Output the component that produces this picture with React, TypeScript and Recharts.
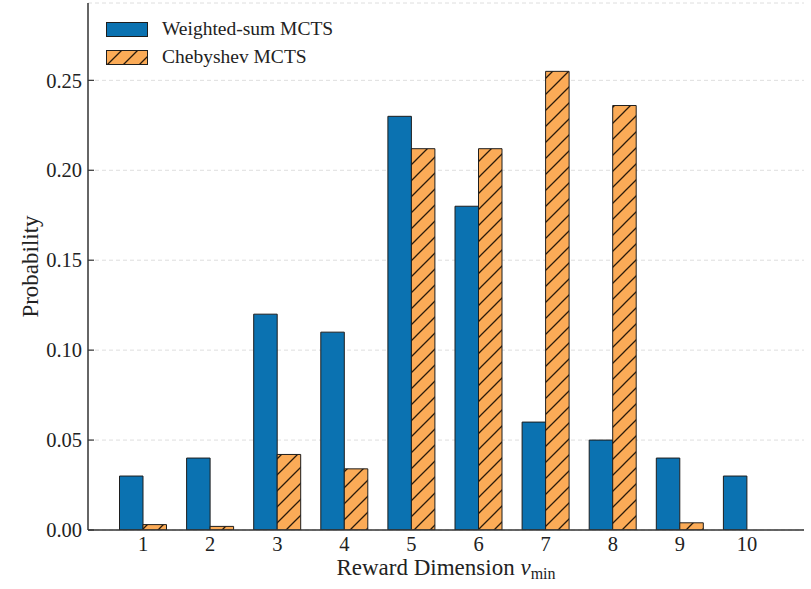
import { BarChart, Bar, XAxis, YAxis, CartesianGrid, Legend } from "recharts";

const dims = ["1", "2", "3", "4", "5", "6", "7", "8", "9", "10"];
const weightedSum = [0.03, 0.04, 0.12, 0.11, 0.23, 0.18, 0.06, 0.05, 0.04, 0.03];
const chebyshev = [0.003, 0.002, 0.042, 0.034, 0.212, 0.212, 0.255, 0.236, 0.004, 0];
const yTicks = [0, 0.05, 0.1, 0.15, 0.2, 0.25];

const data = dims.map((d, i) => ({ dim: d, weighted: weightedSum[i], cheby: chebyshev[i] }));

const FONT = '"Liberation Serif", "DejaVu Serif", serif';
const BLUE = "#0b72b1";
const ORANGE = "#fbab57";
const EDGE = "#1e1e1e";
const INK = "#222";

const HatchDefs = ({ id }: { id: string }) => (
    <defs>
        <pattern id={id} patternUnits="userSpaceOnUse" width={16} height={16}>
            <rect width={16} height={16} fill={ORANGE} />
            <path d="M0,16 L16,0 M-2,2 L2,-2 M14,18 L18,14" stroke="#2a1a0a" strokeWidth={1.3} />
        </pattern>
    </defs>
);

const YTick = (props: any) => {
    const { x, y, payload } = props;
    return (
        <g>
            <line x1={x} y1={y} x2={x + 6} y2={y} stroke="#333" strokeWidth={1.2} />
            <text x={x - 6} y={y} dy="0.35em" textAnchor="end" fontSize={20.5} fill={INK} fontFamily={FONT}>
                {Number(payload.value).toFixed(2)}
            </text>
        </g>
    );
};

const XTick = (props: any) => {
    const { x, y, payload } = props;
    return (
        <text x={x} y={y + 21} textAnchor="middle" fontSize={20.5} fill={INK} fontFamily={FONT}>
            {payload.value}
        </text>
    );
};

const YLabel = (props: any) => {
    const { viewBox } = props;
    const cx = viewBox.x + 30;
    const cy = viewBox.y + viewBox.height / 2;
    return (
        <text x={cx} y={cy} dy="0.35em" textAnchor="middle" transform={`rotate(-90, ${cx}, ${cy})`}
            fontSize={23} fill={INK} fontFamily={FONT}>
            Probability
        </text>
    );
};

const XLabel = (props: any) => {
    const { viewBox } = props;
    return (
        <text x={viewBox.x + viewBox.width / 2} y={viewBox.y + 45} textAnchor="middle" fontSize={23}
            fill={INK} fontFamily={FONT}>
            Reward Dimension <tspan fontStyle="italic">v</tspan>
            <tspan dy={4} fontSize={16}>min</tspan>
        </text>
    );
};

const LegendBox = () => (
    <div style={{ fontFamily: FONT, fontSize: 19.5, color: INK, lineHeight: 1 }}>
        <div style={{ display: "flex", alignItems: "center", height: 28 }}>
            <svg width={42} height={15}>
                <rect x={0.5} y={0.5} width={41} height={14} fill={BLUE} stroke={EDGE} />
            </svg>
            <span style={{ marginLeft: 14 }}>Weighted-sum MCTS</span>
        </div>
        <div style={{ display: "flex", alignItems: "center", height: 28 }}>
            <svg width={42} height={15}>
                <HatchDefs id="hatchLegend" />
                <rect x={0.5} y={0.5} width={41} height={14} fill="url(#hatchLegend)" stroke={EDGE} />
            </svg>
            <span style={{ marginLeft: 14 }}>Chebyshev MCTS</span>
        </div>
    </div>
);

const App = () => {
    return (
        <div style={{ position: "absolute", left: 0, top: 0, background: "#fff" }}>
            <BarChart width={811} height={589} data={data} barGap={0}
                margin={{ top: 3, right: 7, left: 0, bottom: 0 }}>
                <HatchDefs id="hatch" />
                <CartesianGrid vertical={false} stroke="#dedede" strokeDasharray="4 3" />
                <XAxis dataKey="dim" interval={0} height={59} padding={{ left: 21.5, right: 23.5 }}
                    axisLine={{ stroke: "#333", strokeWidth: 1.5 }} tickLine={false} tickSize={0} tickMargin={0}
                    tick={<XTick />} label={<XLabel />} />
                <YAxis domain={[0, 0.293]} ticks={yTicks} width={88} allowDataOverflow
                    axisLine={{ stroke: "#333", strokeWidth: 1.5 }} tickLine={false} tickSize={0} tickMargin={0}
                    tick={<YTick />} label={<YLabel />} />
                <Legend layout="horizontal" verticalAlign="middle" align="center" content={<LegendBox />}
                    wrapperStyle={{ left: 106, top: 15, width: "auto" }} />
                <Bar dataKey="weighted" fill={BLUE} stroke={EDGE} strokeWidth={1} barSize={23.5}
                    isAnimationActive={false} />
                <Bar dataKey="cheby" fill="url(#hatch)" stroke={EDGE} strokeWidth={1} barSize={23.5}
                    isAnimationActive={false} />
            </BarChart>
        </div>
    );
};

export default App;
